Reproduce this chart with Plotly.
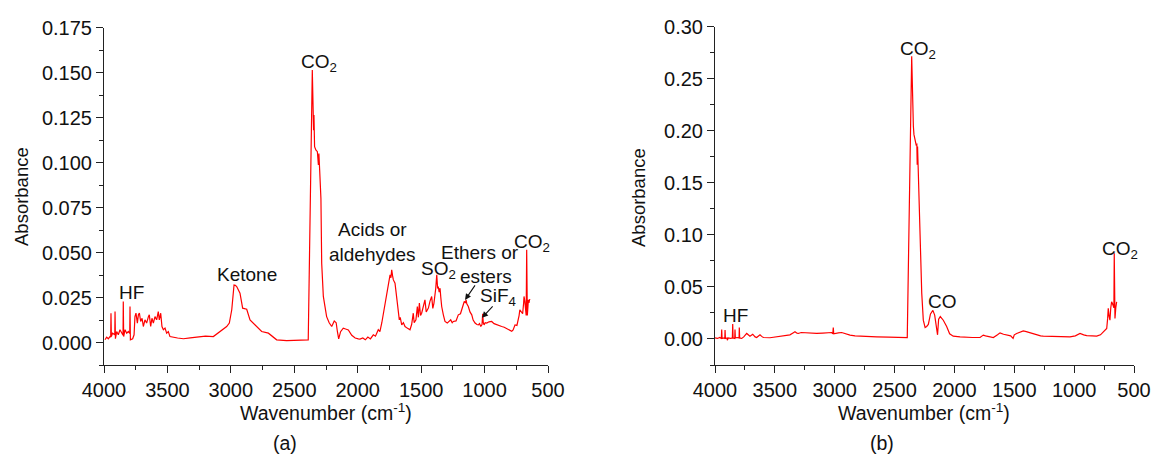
import plotly.graph_objects as go

# ---------------- panel (a) data ----------------
a_hf_wn = [3992, 3979, 3966, 3953, 3947, 3945, 3942, 3932, 3915, 3913, 3910, 3900, 3887, 3874, 3861,
           3850, 3848, 3845, 3834, 3821, 3808, 3797, 3795, 3792, 3774, 3763, 3756, 3748, 3737, 3729,
           3721, 3711, 3700, 3690, 3677, 3664, 3650, 3643, 3632, 3622, 3611, 3598, 3585, 3572, 3564,
           3553, 3543, 3532, 3519, 3506, 3493, 3480]
a_hf_abs = [0.0015, 0.0030, 0.0021, 0.0033, 0.0030, 0.0163, 0.0033, 0.0052, 0.0043, 0.0172, 0.0021,
            0.0061, 0.0043, 0.0071, 0.0052, 0.0040, 0.0228, 0.0033, 0.0071, 0.0052, 0.0061, 0.0050,
            0.0200, 0.0015, 0.0021, 0.0043, 0.0144, 0.0163, 0.0108, 0.0154, 0.0163, 0.0117, 0.0135,
            0.0089, 0.0126, 0.0108, 0.0144, 0.0154, 0.0089, 0.0135, 0.0108, 0.0144, 0.0126, 0.0172,
            0.0126, 0.0163, 0.0089, 0.0071, 0.0080, 0.0052, 0.0061, 0.0033]

a_ket_wn = [3420, 3374, 3320, 3269, 3200, 3138, 3085, 3060, 3033, 3012, 2993, 2975, 2965, 2954, 2928,
            2907, 2890, 2875, 2849, 2809, 2780, 2757, 2704, 2670, 2639, 2560, 2480, 2402, 2390]
a_ket_abs = [0.0025, 0.0021, 0.0026, 0.0030, 0.0035, 0.0033, 0.0061, 0.0075, 0.0089, 0.0108, 0.0182,
             0.0320, 0.0318, 0.0311, 0.0274, 0.0191, 0.0190, 0.0185, 0.0126, 0.0098, 0.0080, 0.0061,
             0.0052, 0.0030, 0.0015, 0.0011, 0.0012, 0.0013, 0.0015]

a_co2_wn = [2358, 2352, 2348, 2345, 2340, 2330, 2318, 2310, 2306, 2300, 2290, 2284, 2271, 2258, 2245,
            2225, 2205, 2185, 2170, 2160, 2150, 2135, 2114, 2095, 2074, 2047, 2020, 1995]
a_co2_abs = [0.1515, 0.1265, 0.1180, 0.1265, 0.1089, 0.1070, 0.1061, 0.0987, 0.1050, 0.0959, 0.0800,
             0.0441, 0.0256, 0.0200, 0.0144, 0.0110, 0.0089, 0.0120, 0.0110, 0.0060, 0.0020, 0.0060,
             0.0080, 0.0075, 0.0070, 0.0040, 0.0025, 0.0020]

a_fp_wn = [1982, 1960, 1940, 1920, 1900, 1877, 1860, 1838, 1825, 1810, 1798, 1785, 1772, 1760, 1745,
           1738, 1732, 1725, 1719, 1706, 1693, 1680, 1672, 1665, 1653, 1640, 1627, 1610, 1588, 1575,
           1562, 1555, 1541, 1530, 1522, 1514, 1505, 1496, 1485, 1470, 1460, 1443, 1430, 1417, 1408,
           1399, 1385, 1377, 1370, 1365, 1358, 1351, 1345, 1338, 1325, 1312, 1294, 1280, 1267, 1255,
           1246, 1225, 1207, 1190, 1180, 1170, 1160, 1150, 1146, 1140, 1128, 1115, 1101, 1090, 1075,
           1060, 1049, 1040, 1030, 1020, 1015, 1010, 1004, 995, 983, 965, 944, 925, 904, 885,
           865, 845, 826, 805, 786, 775, 760, 745, 734, 728, 722, 712, 700, 692, 689,
           683, 679, 672, 668, 665, 663, 658, 655, 650, 645, 642]
a_fp_abs = [0.0019, 0.0025, 0.0015, 0.0030, 0.0020, 0.0043, 0.0035, 0.0071, 0.0060, 0.0110,
            0.0163, 0.0200, 0.0274, 0.0330, 0.0376, 0.0360, 0.0404, 0.0370, 0.0348, 0.0330,
            0.0237, 0.0170, 0.0126, 0.0140, 0.0098, 0.0110, 0.0089, 0.0080, 0.0071, 0.0100,
            0.0163, 0.0110, 0.0126, 0.0200, 0.0140, 0.0219, 0.0150, 0.0163, 0.0200, 0.0237,
            0.0170, 0.0191, 0.0230, 0.0256, 0.0190, 0.0219, 0.0300, 0.0376, 0.0300, 0.0311,
            0.0280, 0.0302, 0.0250, 0.0200, 0.0154, 0.0117, 0.0108, 0.0120, 0.0126, 0.0110,
            0.0117, 0.0120, 0.0154, 0.0160, 0.0182, 0.0200, 0.0228, 0.0220, 0.0237, 0.0215,
            0.0200, 0.0170, 0.0154, 0.0125, 0.0108, 0.0100, 0.0098, 0.0105, 0.0089, 0.0100,
            0.0160, 0.0110, 0.0098, 0.0110, 0.0108, 0.0115, 0.0117, 0.0105, 0.0098, 0.0095,
            0.0089, 0.0085, 0.0076, 0.0070, 0.0062, 0.0070, 0.0098, 0.0095, 0.0126, 0.0150,
            0.0182, 0.0170, 0.0160, 0.0220, 0.0256, 0.0230, 0.0200, 0.0150, 0.0515, 0.0200,
            0.0150, 0.0200, 0.0237, 0.0220, 0.0240, 0.0237]

# ---------------- panel (b) data ----------------
b_hf_wn = [4000, 3980, 3960, 3947, 3944, 3941, 3925, 3918, 3916, 3913, 3900, 3897, 3890, 3870, 3855,
           3852, 3849, 3835, 3833, 3830, 3815, 3799, 3797, 3794, 3777, 3760, 3735, 3720, 3708, 3685,
           3665, 3652, 3624, 3610, 3596, 3541, 3500, 3457, 3400, 3374, 3345, 3332, 3315, 3304, 3280,
           3234, 3190, 3151, 3100, 3081, 3040, 3025, 3016, 3012, 3008, 2998, 2970, 2942, 2900, 2872,
           2830, 2789, 2700, 2649, 2550, 2482, 2394]
b_hf_abs = [0.0010, 0.0005, 0.0015, 0.0005, 0.0091, 0.0005, 0.0010, 0.0005, 0.0085, 0.0005,
            0.0010, -0.0012, 0.0010, 0.0005, 0.0010, 0.0143, 0.0010, 0.0005, 0.0091, 0.0010,
            0.0014, 0.0010, 0.0110, 0.0010, 0.0005, 0.0020, 0.0053, 0.0040, 0.0027, 0.0046,
            0.0020, 0.0014, 0.0040, 0.0025, 0.0014, 0.0012, 0.0018, 0.0021, 0.0035, 0.0040,
            0.0060, 0.0069, 0.0055, 0.0053, 0.0062, 0.0059, 0.0055, 0.0053, 0.0057, 0.0059,
            0.0060, 0.0062, 0.0050, 0.0110, 0.0050, 0.0053, 0.0058, 0.0062, 0.0045, 0.0037,
            0.0030, 0.0027, 0.0024, 0.0021, 0.0018, 0.0014, 0.0014]

b_co2_wn = [2357, 2352, 2349, 2346, 2343, 2338, 2330, 2320, 2314, 2311, 2308, 2303, 2290, 2282, 2273,
            2260, 2245, 2232, 2218, 2200, 2180, 2165, 2152, 2141, 2132, 2118, 2093, 2065, 2040, 2010]
b_co2_abs = [0.2717, 0.2400, 0.2283, 0.2280, 0.2043, 0.1963, 0.1914, 0.1866, 0.1870, 0.1674,
             0.1850, 0.1650, 0.1100, 0.0791, 0.0438, 0.0181, 0.0110, 0.0120, 0.0140, 0.0240,
             0.0275, 0.0230, 0.0110, 0.0040, 0.0190, 0.0215, 0.0180, 0.0120, 0.0050, 0.0027]

b_fp_wn = [1953, 1900, 1850, 1786, 1759, 1740, 1700, 1675, 1640, 1619, 1590, 1563, 1530, 1510, 1500,
           1480, 1450, 1425, 1400, 1369, 1340, 1313, 1280, 1258, 1200, 1146, 1100, 1035, 990, 951,
           920, 895, 850, 812, 780, 757, 740, 728, 720, 715, 708, 701, 694, 687, 680,
           673, 668, 665, 662, 659, 652, 645]
b_fp_abs = [0.0021, 0.0016, 0.0014, 0.0014, 0.0037, 0.0030, 0.0016, 0.0014, 0.0040, 0.0059,
            0.0045, 0.0037, 0.0030, 0.0005, 0.0040, 0.0053, 0.0065, 0.0078, 0.0070, 0.0059,
            0.0045, 0.0037, 0.0030, 0.0027, 0.0027, 0.0027, 0.0024, 0.0021, 0.0030, 0.0053,
            0.0040, 0.0033, 0.0030, 0.0027, 0.0040, 0.0069, 0.0085, 0.0101, 0.0200, 0.0294,
            0.0220, 0.0181, 0.0300, 0.0357, 0.0340, 0.0309, 0.0300, 0.0823, 0.0300, 0.0197,
            0.0300, 0.0357]

x_ticks = [4000, 3500, 3000, 2500, 2000, 1500, 1000, 500]

for w, a in [(a_hf_wn, a_hf_abs), (a_ket_wn, a_ket_abs), (a_co2_wn, a_co2_abs), (a_fp_wn, a_fp_abs),
             (b_hf_wn, b_hf_abs), (b_co2_wn, b_co2_abs), (b_fp_wn, b_fp_abs)]:
    assert len(w) == len(a), (len(w), len(a))

wn_a = a_hf_wn + a_ket_wn + a_co2_wn + a_fp_wn
abs_a = a_hf_abs + a_ket_abs + a_co2_abs + a_fp_abs
wn_b = b_hf_wn + b_co2_wn + b_fp_wn
abs_b = b_hf_abs + b_co2_abs + b_fp_abs

W, H = 1155, 455
FONT = "Liberation Sans, Arial, sans-serif"
RED = "#ff0000"

fig = go.Figure()
fig.add_trace(go.Scatter(x=wn_a, y=abs_a, mode="lines", line=dict(color=RED, width=1.2),
                         xaxis="x", yaxis="y", showlegend=False))
fig.add_trace(go.Scatter(x=wn_b, y=abs_b, mode="lines", line=dict(color=RED, width=1.2),
                         xaxis="x2", yaxis="y2", showlegend=False))


def xax(domain, anchor):
    return dict(domain=domain, anchor=anchor, range=[4000, 500], tickvals=x_ticks,
                automargin=False,
                showline=True, linecolor="#222", linewidth=1, ticks="outside", ticklen=7,
                tickwidth=1, tickcolor="#222", showgrid=False, zeroline=False,
                tickfont=dict(size=20, color="#111", family=FONT),
                minor=dict(dtick=250, tick0=0, ticks="outside", ticklen=4, tickcolor="#222"))


def yax(domain, anchor, rng, dtick, fmt):
    return dict(domain=domain, anchor=anchor, range=rng, dtick=dtick, tick0=0, tickformat=fmt,
                automargin=False,
                showline=True, linecolor="#222", linewidth=1, ticks="outside", ticklen=7,
                tickwidth=1, tickcolor="#222", showgrid=False, zeroline=False,
                tickfont=dict(size=20, color="#111", family=FONT),
                minor=dict(dtick=dtick / 2, tick0=0, ticks="outside", ticklen=4, tickcolor="#222"))


fig.update_layout(
    width=W, height=H, margin=dict(l=0, r=0, t=0, b=0, pad=0, autoexpand=False),
    paper_bgcolor="white", plot_bgcolor="white",
    font=dict(family=FONT, color="#111"),
    xaxis=xax([104 / W, 548 / W], "y"),
    yaxis=yax([90 / H, 427.3 / H], "x", [-0.0125, 0.175], 0.025, ".3f"),
    xaxis2=xax([715 / W, 1134 / W], "y2"),
    yaxis2=yax([90 / H, 428.3 / H], "x2", [-0.025, 0.30], 0.05, ".2f"),
)

ann = []


def label(text, x, y, xref, yref, size=19):
    ann.append(dict(text=text, x=x, y=y, xref=xref, yref=yref, showarrow=False,
                    xanchor="center", yanchor="middle", font=dict(size=size, family=FONT, color="#111")))


# panel (a) labels
label("HF", 3787, 0.0276, "x", "y")
label("Ketone", 2873, 0.0376, "x", "y")
label("CO<sub>2</sub>", 2305, 0.1555, "x", "y")
label("Acids or<br>aldehydes", 1887, 0.0559, "x", "y")
label("SO<sub>2</sub>", 1367, 0.0405, "x", "y")
label("Ethers or", 1036, 0.0498, "x", "y")
label("esters", 989, 0.0365, "x", "y")
label("SiF<sub>4</sub>", 894, 0.0255, "x", "y")
label("CO<sub>2</sub>", 626, 0.0555, "x", "y")
# panel (b) labels
label("CO<sub>2</sub>", 2304, 0.278, "x2", "y2")
label("CO", 2096, 0.0364, "x2", "y2")
label("HF", 3825, 0.0229, "x2", "y2")
label("CO<sub>2</sub>", 617, 0.0855, "x2", "y2")

# arrows
for hx, hy, dx, dy in [(1154, 0.0237, 11, -16), (1020, 0.0137, 12, -13)]:
    ann.append(dict(text="", x=hx, y=hy, xref="x", yref="y", ax=dx, ay=dy, showarrow=True,
                    arrowhead=2, arrowsize=1.1, arrowwidth=1.1, arrowcolor="#111"))


# axis titles and panel captions (paper coords)
def ptext(text, px, py, size, angle=0):
    ann.append(dict(text=text, x=px / W, y=1 - py / H, xref="paper", yref="paper", showarrow=False,
                    xanchor="center", yanchor="middle", textangle=angle,
                    font=dict(size=size, family=FONT, color="#111")))


ptext("Absorbance", 21, 197, 18.5, -90)
ptext("Absorbance", 638, 198, 18.5, -90)
ptext("Wavenumber (cm<sup>-1</sup>)", 326, 412, 19.5)
ptext("Wavenumber (cm<sup>-1</sup>)", 924, 412, 19.5)
ptext("(a)", 285, 443, 19.5)
ptext("(b)", 882, 443, 19.5)

fig.update_layout(annotations=ann)
fig.write_html("out.html", config={"displayModeBar": False},
               post_script="document.body.style.margin='0px';document.body.style.overflow='hidden';")
